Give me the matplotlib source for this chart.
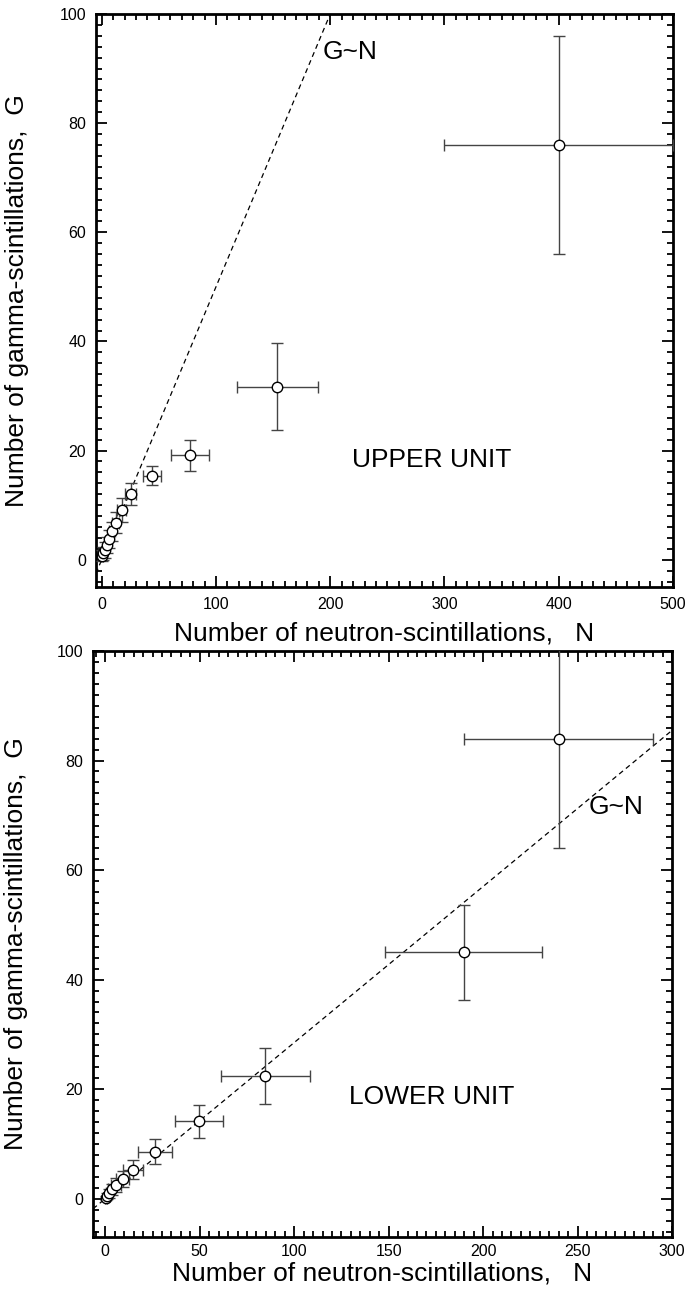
import matplotlib
matplotlib.use("Agg")
import matplotlib.pyplot as plt
from matplotlib.ticker import MultipleLocator
import numpy as np

plt.rcParams['font.family'] = ['Liberation Sans', 'DejaVu Sans']

# ---- UPPER UNIT data ----
N_up = [0.3, 1.4, 2.9, 4.4, 6.4, 8.75, 12.3, 17.5, 25.4, 43.8, 77.3, 153.7, 400]
G_up = [0.7, 1.15, 1.8, 2.7, 3.8, 5.2, 6.8, 9.2, 12.1, 15.4, 19.1, 31.7, 76]
Nerr_up = [0.8, 1.0, 1.3, 1.6, 2.0, 2.5, 3.0, 4.0, 5.0, 7.8, 16.4, 35.3, 100]
Gerr_up = [1.0, 1.2, 1.4, 1.5, 1.6, 1.8, 1.9, 2.2, 2.0, 1.7, 2.9, 8.0, 20]
slope_up = 0.5

# ---- LOWER UNIT data ----
N_lo = [0.2, 0.8, 1.8, 3.3, 5.6, 9.2, 14.8, 26.3, 49.6, 84.7, 189.8, 240]
G_lo = [0.1, 0.5, 1.0, 1.7, 2.5, 3.6, 5.3, 8.6, 14.1, 22.4, 45.0, 84]
Nerr_lo = [0.5, 1.0, 1.5, 2.0, 2.5, 3.5, 5.3, 8.8, 12.8, 23.5, 41.6, 50]
Gerr_lo = [0.4, 0.6, 0.8, 1.0, 1.2, 1.4, 1.7, 2.3, 2.95, 5.1, 8.7, 20]
slope_lo = 0.285

xlabel = "Number of neutron-scintillations,   N"
ylabel = "Number of gamma-scintillations,  G"

W, H = 693, 1290
fig = plt.figure(figsize=(W / 100, H / 100), dpi=100)
ax1 = fig.add_axes([96/W, 1-587/H, 577/W, 573/H])
ax2 = fig.add_axes([93/W, 1-1237/H, 579/W, 586/H])

def style(ax, xlim, ylim, xmaj, xmin, xlab_y, ylab_x, xpad):
    ax.set_xlim(*xlim)
    ax.set_ylim(*ylim)
    ax.xaxis.set_major_locator(MultipleLocator(xmaj))
    ax.xaxis.set_minor_locator(MultipleLocator(xmin))
    ax.yaxis.set_major_locator(MultipleLocator(20))
    ax.yaxis.set_minor_locator(MultipleLocator(2))
    ax.tick_params(which='both', direction='in', top=True, right=True,
                   labelsize=11.5, width=1.3, pad=7)
    ax.tick_params(axis='x', which='both', pad=xpad)
    ax.tick_params(which='major', length=8)
    ax.tick_params(which='minor', length=4)
    for s in ax.spines.values():
        s.set_linewidth(2)
    ax.set_xlabel(xlabel, fontsize=19, va='center')
    ax.set_ylabel(ylabel, fontsize=19, va='center')
    ax.xaxis.set_label_coords(0.5, xlab_y)
    ax.yaxis.set_label_coords(ylab_x, 0.5)

def draw(ax, N, G, Nerr, Gerr, slope, xlim):
    xs = np.array(xlim)
    ax.plot(xs, slope * xs, color='black', lw=0.9, ls=(0, (4, 3)))
    ax.errorbar(N, G, xerr=Nerr, yerr=Gerr, fmt='o', ms=7.5, mfc='white',
                mec='black', mew=1.0, ecolor='#444444', elinewidth=1.0,
                capsize=4, capthick=1.0, zorder=3)

xl1 = (-5, 500)
style(ax1, xl1, (-5, 100), 100, 10, (587 - 633) / 573, (17 - 96) / 577, 7)
draw(ax1, N_up, G_up, Nerr_up, Gerr_up, slope_up, xl1)
ax1.text(193, 93, "G~N", fontsize=19, va='center', ha='left')
ax1.text(219, 18.3, "UPPER UNIT", fontsize=19, va='center', ha='left')

xl2 = (-6.5, 300)
style(ax2, xl2, (-7, 100), 50, 5, (1237 - 1274) / 586, (16 - 93) / 579, 5)
draw(ax2, N_lo, G_lo, Nerr_lo, Gerr_lo, slope_lo, xl2)
ax2.text(256, 71.6, "G~N", fontsize=19, va='center', ha='left')
ax2.text(129, 18.6, "LOWER UNIT", fontsize=19, va='center', ha='left')

fig.savefig("out.png", dpi=100)
